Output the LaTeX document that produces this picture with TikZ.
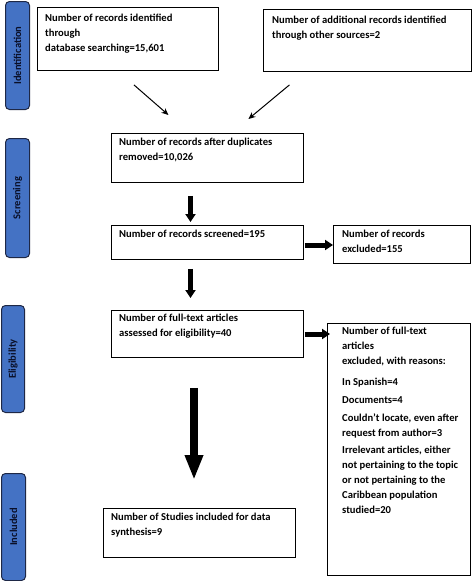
\documentclass[tikz,border=0pt]{standalone}
\usepackage{fontspec}
\setmainfont{Carlito}
\usetikzlibrary{arrows.meta}
\definecolor{barblue}{RGB}{68,114,196}
\definecolor{bardark}{RGB}{30,40,70}
\definecolor{bartext}{RGB}{10,15,40}
\tikzset{
  bar/.style={draw=bardark, fill=barblue, line width=1pt, rounded corners=4pt, anchor=north west, inner sep=0pt},
  bartxt/.style={rotate=90, text=bartext, font=\bfseries\fontsize{10.5}{12}\selectfont, inner sep=0pt},
  box/.style={draw=black, line width=0.9pt, anchor=north west, inner sep=0pt},
  txt/.style={anchor=north west, inner sep=0pt, align=left, font=\bfseries\fontsize{10.6}{15}\selectfont},
  thin/.style={-{Stealth[length=7pt,width=6pt]}, line width=1pt},
  thick/.style={-{Triangle[length=8pt,width=10pt]}, line width=5pt},
  big/.style={-{Triangle[length=25pt,width=17pt]}, line width=8pt}
}
\begin{document}
\begin{tikzpicture}[x=1pt,y=-1pt]
\useasboundingbox (0,0) rectangle (473,581);
% side bars
\node[bar, minimum width=24pt, minimum height=108pt] (s1) at (5,1) {};
\node[bartxt] (s1t) at (s1.center) {Identification};
\node[bar, minimum width=24pt, minimum height=119pt] (s2) at (5,138) {};
\node[bartxt] (s2t) at (s2.center) {Screening};
\node[bar, minimum width=23pt, minimum height=107pt] (s3) at (1,305) {};
\node[bartxt] (s3t) at (s3.center) {Eligibility};
\node[bar, minimum width=24pt, minimum height=107pt] (s4) at (1,473) {};
\node[bartxt] (s4t) at (s4.center) {Included};
% boxes
\node[box, minimum width=181pt, minimum height=63pt] (b1) at (37,7) {};
\node[txt] (t1) at ([shift={(8,7)}]b1.north west) {Number of records identified\\through\\database searching=15,601};
\node[box, minimum width=208pt, minimum height=62pt] (b2) at (263,9) {};
\node[txt] (t2) at ([shift={(9,7)}]b2.north west) {Number of additional records identified\\through other sources=2};
\node[box, minimum width=192pt, minimum height=49pt] (b3) at (111,133) {};
\node[txt] (t3) at ([shift={(8,5)}]b3.north west) {Number of records after duplicates\\removed=10,026};
\node[box, minimum width=192pt, minimum height=34pt] (b4) at (111,225) {};
\node[txt] (t4) at ([shift={(8,5)}]b4.north west) {Number of records screened=195};
\node[box, minimum width=137pt, minimum height=38pt] (b5) at (333,225) {};
\node[txt] (t5) at ([shift={(9,5)}]b5.north west) {Number of records\\excluded=155};
\node[box, minimum width=192pt, minimum height=47pt] (b6) at (111,310) {};
\node[txt] (t6) at ([shift={(8,4)}]b6.north west) {Number of full-text articles\\assessed for eligibility=40};
\node[box, minimum width=143pt, minimum height=252pt] (b7) at (327,323) {};
\node[txt] (t7) at ([shift={(15,4)}]b7.north west) {Number of full-text\\articles\\excluded, with reasons:\\[6pt]In Spanish=4\\[3pt]Documents=4\\[3pt]Couldn’t locate, even after\\request from author=3\\[2pt]Irrelevant articles, either\\not pertaining to the topic\\or not pertaining to the\\Caribbean population\\studied=20};
\node[box, minimum width=192pt, minimum height=49pt] (b8) at (103,508) {};
\node[txt] (t8) at ([shift={(8,5)}]b8.north west) {Number of Studies included for data\\synthesis=9};
% connectors
\coordinate (cx) at (190.5,0);
\coordinate (cbig) at (194,0);
\coordinate (cy1) at (0,245);
\coordinate (cy2) at (0,334);
\draw[thin] ([shift={(6,14)}]b1.south) -- ([shift={(-39,-18)}]b3.north);
\draw[thin] ([shift={(-78,13)}]b2.south) -- ([shift={(41,-14)}]b3.north);
\draw[thick, shorten <=13pt, shorten >=3pt] (b3.south -| cx) -- (b4.north -| cx);
\draw[thick, shorten <=9pt, shorten >=12pt] (b4.south -| cx) -- (b6.north -| cx);
\draw[thick, shorten <=1pt] (b4.east |- cy1) -- (b5.west |- cy1);
\draw[thick, shorten <=1pt, shorten >=-3pt] (b6.east |- cy2) -- (b7.west |- cy2);
\draw[big, shorten <=30pt, shorten >=28pt] (b6.south -| cbig) -- (b8.north -| cbig);
\end{tikzpicture}
\end{document}
